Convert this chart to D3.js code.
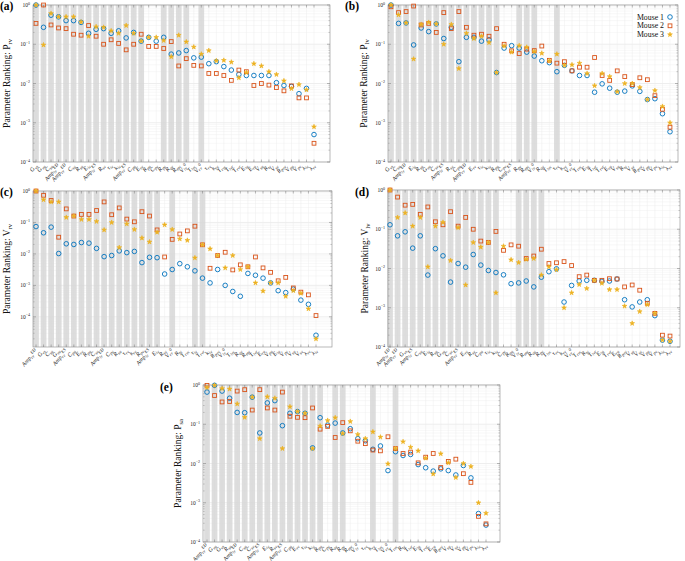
<!DOCTYPE html>
<html><head><meta charset="utf-8">
<script src="https://cdn.jsdelivr.net/npm/d3@7"></script>
<style>body{margin:0;background:#fff}svg{display:block}</style>
</head><body>
<svg id="chart" width="685" height="561"></svg>
<script>
// ---------- DATA ----------
const seriesNames = ["Mouse 1", "Mouse 2", "Mouse 3"];
const yLabelSubs = ["rv", "lv", "rv", "lv", "sa"];
const yLabelBases = ["P", "P", "V", "V", "P"];
const panelTags = ["(a)", "(b)", "(c)", "(d)", "(e)"];

const labelsA = ["G_vs","G_va","C_sa","Amp_lv^ED","Amp_rv^ED","C_sv","R_sa","E_lv","Amp_lv^ES","R_sv","τ_lv","k_lv","Amp_rv^ES","C_pa","E_rv","R_pa","C_pv","R_pv","R_av","R_mv","V_lv^0","T_lvc","V_rv^0","τ_rv","k_rv","T_rvc","T_lvr","T_rvr","E_la","E_ra","V_sa","R_tv","V_sv","R_pvv","V_pa","V_pv","λ_lv","λ_rv"];
const labelsB = ["G_vs","C_sa","Amp_lv^ED","E_lv","R_sa","G_va","C_sv","Amp_lv^ES","R_sv","C_pa","Amp_rv^ED","E_rv","τ_lv","k_lv","R_pa","C_pv","Amp_rv^ES","R_pv","R_mv","V_lv^0","R_av","T_lvc","τ_rv","k_rv","V_rv^0","T_rvc","E_la","T_lvr","T_rvr","E_ra","V_sa","R_tv","V_sv","R_pvv","V_pa","V_pv","λ_lv","λ_rv"];
const labelsC = ["Amp_rv^ED","G_vs","C_sa","G_va","Amp_rv^ES","C_pa","E_rv","R_pa","C_sv","Amp_lv^ED","C_pv","R_sa","τ_rv","k_rv","R_pv","Amp_lv^ES","E_lv","R_sv","V_rv^0","R_tv","T_rvc","τ_lv","T_rvr","k_lv","R_pvv","V_lv^0","T_lvc","R_av","R_mv","T_lvr","E_ra","V_pa","E_la","V_pv","V_sa","V_sv","λ_rv","λ_lv"];
const labelsD = ["Amp_lv^ED","Amp_rv^ED","G_vs","Amp_lv^ES","C_sa","E_lv","R_sa","G_va","C_sv","Amp_rv^ES","E_rv","R_sv","C_pa","τ_lv","k_lv","C_pv","R_pa","V_lv^0","R_mv","R_av","R_pv","T_lvc","τ_rv","k_rv","V_rv^0","T_rvc","R_tv","T_lvr","E_la","T_rvr","E_ra","R_pvv","V_sa","V_sv","V_pa","V_pv","λ_lv","λ_rv"];
const labelsE = ["Amp_rv^ED","G_va","G_vs","R_sa","Amp_lv^ED","C_sa","C_sv","Amp_lv^ES","E_lv","R_sv","Amp_rv^ES","C_pa","E_rv","τ_lv","k_lv","R_pa","C_pv","R_av","R_pv","R_mv","V_lv^0","τ_rv","k_rv","T_lvc","V_rv^0","T_rvc","R_tv","T_lvr","E_la","T_rvr","E_ra","R_pvv","V_sa","V_sv","V_pa","V_pv","λ_lv","λ_rv"];

const aM1 = [1.0,0.27,0.55,0.50,0.40,0.40,0.36,0.19,0.24,0.25,0.19,0.22,0.145,0.20,0.12,0.15,0.12,0.15,0.056,0.06,0.069,0.045,0.047,0.032,0.036,0.027,0.022,0.017,0.016,0.016,0.016,0.016,0.0105,0.0089,0.0084,0.0055,0.0075,0.0005];
const aM2 = [0.34,1.0,0.31,0.26,0.25,0.18,0.17,0.30,0.16,0.10,0.13,0.105,0.072,0.10,0.18,0.088,0.088,0.078,0.117,0.028,0.043,0.029,0.028,0.018,0.018,0.016,0.012,0.022,0.020,0.0089,0.010,0.0091,0.0079,0.0065,0.0087,0.0043,0.0043,0.0003];
const aM3 = [1.0,0.096,0.61,0.50,0.50,0.50,0.37,0.16,0.28,0.27,0.22,0.19,0.30,0.19,0.12,0.15,0.15,0.125,0.048,0.17,0.115,0.085,0.056,0.069,0.038,0.039,0.035,0.014,0.019,0.032,0.028,0.020,0.017,0.0117,0.0074,0.0094,0.0069,0.00079];

const bM1 = [1.0,0.34,0.35,0.096,0.26,0.21,0.33,0.14,0.27,0.036,0.15,0.15,0.12,0.13,0.019,0.08,0.092,0.08,0.063,0.05,0.038,0.034,0.02,0.029,0.021,0.016,0.016,0.006,0.0098,0.0076,0.006,0.0064,0.0087,0.0063,0.0039,0.0041,0.0017,0.00059];
const bM2 = [0.9,0.64,0.68,0.94,0.31,0.34,0.2,0.64,0.25,0.68,0.27,0.17,0.18,0.16,0.25,0.1,0.068,0.058,0.075,0.069,0.09,0.039,0.033,0.036,0.021,0.026,0.026,0.046,0.016,0.012,0.021,0.015,0.0094,0.014,0.0125,0.0049,0.0022,0.00077];
const bM3 = [1.0,0.56,0.35,0.042,0.32,0.36,0.33,0.1,0.32,0.024,0.19,0.14,0.16,0.11,0.019,0.09,0.063,0.092,0.084,0.065,0.059,0.038,0.056,0.029,0.030,0.033,0.018,0.0088,0.018,0.015,0.0062,0.010,0.010,0.0079,0.0039,0.0066,0.0026,0.001];

const cM1 = [0.074,0.047,0.071,0.0103,0.021,0.020,0.023,0.022,0.015,0.0082,0.0089,0.0125,0.011,0.012,0.0053,0.0078,0.0076,0.0023,0.0032,0.0049,0.0039,0.0029,0.0017,0.0012,0.0032,0.001,0.00064,0.00045,0.0024,0.0021,0.0017,0.0012,0.00068,0.00059,0.00076,0.00034,0.00025,0.000026];
const cM2 = [1.0,0.73,0.50,0.034,0.27,0.16,0.18,0.18,0.24,0.45,0.176,0.29,0.128,0.105,0.22,0.16,0.058,0.008,0.029,0.043,0.054,0.076,0.0195,0.0035,0.0089,0.0113,0.0031,0.0045,0.0039,0.008,0.0036,0.0026,0.0014,0.0018,0.00083,0.00061,0.0005,0.00011];
const cM3 = [1.0,0.53,0.45,0.45,0.145,0.16,0.125,0.125,0.108,0.058,0.10,0.016,0.09,0.06,0.032,0.024,0.049,0.084,0.06,0.03,0.027,0.0075,0.0195,0.0145,0.0089,0.0036,0.0089,0.0032,0.0039,0.0012,0.00066,0.0012,0.0012,0.00045,0.00068,0.00056,0.00018,0.00002];

const dM1 = [0.13,0.068,0.086,0.033,0.068,0.0068,0.032,0.021,0.0045,0.0134,0.0108,0.0227,0.0122,0.0089,0.0079,0.0069,0.0041,0.0043,0.0048,0.0034,0.006,0.0083,0.0098,0.0014,0.0037,0.0048,0.005,0.005,0.0047,0.0048,0.0054,0.0016,0.00105,0.0014,0.0016,0.00063,0.00015,0.00014];
const dM2 = [1.0,0.66,0.41,0.43,0.24,0.37,0.155,0.13,0.28,0.12,0.2,0.1,0.05,0.046,0.088,0.029,0.04,0.037,0.018,0.0208,0.031,0.0134,0.014,0.015,0.0119,0.0062,0.0068,0.005,0.005,0.0055,0.0054,0.0034,0.0038,0.0028,0.0013,0.00072,0.0002,0.00019];
const dM3 = [1.0,0.2,0.26,0.12,0.2,0.011,0.12,0.15,0.016,0.11,0.0038,0.046,0.035,0.046,0.0024,0.037,0.0167,0.0142,0.0171,0.018,0.0068,0.011,0.0093,0.001,0.0024,0.0039,0.0031,0.005,0.0042,0.0029,0.0029,0.0011,0.0004,0.0008,0.0012,0.00072,0.00015,0.00014];

const eM1 = [0.66,0.98,0.70,0.46,0.2,0.197,0.49,0.06,0.35,0.40,0.092,0.19,0.21,0.19,0.025,0.147,0.095,0.107,0.06,0.077,0.043,0.038,0.023,0.028,0.0066,0.020,0.016,0.017,0.0094,0.0078,0.0064,0.0073,0.0066,0.0051,0.0089,0.0043,0.00053,0.00027];
const eM2 = [0.98,0.54,0.37,0.38,0.70,0.76,0.23,0.76,0.26,0.23,0.66,0.16,0.15,0.147,0.26,0.075,0.088,0.046,0.11,0.068,0.037,0.032,0.022,0.021,0.048,0.024,0.018,0.0195,0.0104,0.0145,0.018,0.0079,0.0113,0.0129,0.0055,0.0033,0.00045,0.00029];
const eM3 = [0.86,0.98,0.81,0.79,0.33,0.15,0.49,0.043,0.5,0.46,0.024,0.28,0.21,0.19,0.024,0.09,0.125,0.147,0.058,0.118,0.055,0.043,0.064,0.047,0.0098,0.024,0.036,0.026,0.021,0.0137,0.0054,0.0177,0.0104,0.0044,0.01,0.0084,0.001,0.00054];

// categories (1-based) with grey shading
const shadeA = [1,2,3,4,5,6,7,8,9,10,11,12,13,14,15,18,19,20,21,23];
const shadeB = [1,2,3,4,5,6,7,8,9,10,11,12,13,14,15,18,19,20,23];
const shadeC = [1,2,3,4,5,6,7,8,9,10,11,12,13,14,15,16,17,19,22,23];
const shadeD = [1,2,3,4,5,6,7,8,9,10,11,12,13,14,15,18,19,20,21];
const shadeE = [1,2,3,4,5,6,7,8,9,10,11,12,13,14,15,16,18,19,23,26];

const yTickExps = [0, -1, -2, -3, -4];

// ---------- LAYOUT ----------
const layout = [
  {left:33, right:330, top:5, bottom:162, first:36, last:314, ymin:1e-4, ylabX:10, tagX:0, tagY:10},
  {left:388, right:678, top:5, bottom:162, first:391, last:670, ymin:1e-4, ylabX:367, tagX:345, tagY:10, legend:true},
  {left:33, right:332, top:191, bottom:347, first:36, last:316, ymin:1.1e-5, ylabX:10, tagX:0, tagY:196},
  {left:388, right:680, top:190, bottom:347, first:390, last:670, ymin:1e-4, ylabX:368, tagX:355, tagY:196},
  {left:203, right:500, top:385, bottom:542, first:207, last:486, ymin:1e-4, ylabX:181, tagX:160, tagY:391}
];
const panels = [
  {labels:labelsA, s:[aM1,aM2,aM3], shade:shadeA},
  {labels:labelsB, s:[bM1,bM2,bM3], shade:shadeB},
  {labels:labelsC, s:[cM1,cM2,cM3], shade:shadeC},
  {labels:labelsD, s:[dM1,dM2,dM3], shade:shadeD},
  {labels:labelsE, s:[eM1,eM2,eM3], shade:shadeE}
];
const colors = ["#0072BD", "#D95319", "#EDB120"];
const FONT = "'Liberation Serif','Times New Roman',serif";

const svg = d3.select("#chart");
svg.append("rect").attr("width",685).attr("height",561).attr("fill","#fff");

function addMarker(sel, k, cx, cy) {
  if (k === 0) {
    sel.append("circle").attr("cx",cx).attr("cy",cy).attr("r",2.3)
      .attr("fill","none").attr("stroke",colors[0]).attr("stroke-width",0.9);
  } else if (k === 1) {
    sel.append("rect").attr("x",cx-1.9).attr("y",cy-1.9).attr("width",3.8).attr("height",3.8)
      .attr("fill","none").attr("stroke",colors[1]).attr("stroke-width",0.9);
  } else {
    sel.append("path").attr("d", d3.symbol().type(d3.symbolStar).size(7)())
      .attr("transform",`translate(${cx},${cy})`)
      .attr("fill",colors[2]).attr("stroke",colors[2]).attr("stroke-width",0.6)
      .attr("stroke-linejoin","round");
  }
}

function drawLabel(sel, str, x, y) {
  const m = str.match(/^([^_^]+)(?:_([^^]+))?(?:\^(.+))?$/);
  const t = sel.append("text").attr("transform",`translate(${x},${y}) rotate(-50)`)
    .attr("text-anchor","end").attr("font-family",FONT).attr("font-style","italic")
    .attr("font-size",6).attr("fill","#222");
  t.append("tspan").text(m[1]);
  if (m[2]) t.append("tspan").attr("font-size",4.4).attr("dy",1.4).text(m[2]);
  if (m[3]) t.append("tspan").attr("font-size",4.4).attr("dy",-3.4).text(m[3]);
}

layout.forEach((L, pi) => {
  const P = panels[pi];
  const n = P.labels.length;
  const g = svg.append("g");
  const x = d3.scaleLinear().domain([1, n]).range([L.first, L.last]);
  const y = d3.scaleLog().domain([L.ymin, 1]).range([L.bottom, L.top]);
  const step = x(2) - x(1);

  const minor = [];
  for (let e = -5; e < 0; e++) for (let k = 2; k <= 9; k++) {
    const v = k * Math.pow(10, e);
    if (v > L.ymin && v < 1) minor.push(v);
  }
  const major = yTickExps.map(e => Math.pow(10, e)).filter(v => v >= L.ymin);
  g.selectAll(null).data(minor).enter().append("line")
    .attr("x1",L.left).attr("x2",L.right).attr("y1",d=>y(d)).attr("y2",d=>y(d))
    .attr("stroke","#f0f0f0").attr("stroke-width",0.5);
  g.selectAll(null).data(major).enter().append("line")
    .attr("x1",L.left).attr("x2",L.right).attr("y1",d=>y(d)).attr("y2",d=>y(d))
    .attr("stroke","#e2e2e2").attr("stroke-width",0.6);
  g.selectAll(null).data(d3.range(1, n+1)).enter().append("line")
    .attr("x1",d=>x(d)).attr("x2",d=>x(d)).attr("y1",L.top).attr("y2",L.bottom)
    .attr("stroke","#ececec").attr("stroke-width",0.5);

  g.selectAll(null).data(P.shade).enter().append("rect")
    .attr("x",d=>x(d)-step*0.38).attr("width",step*0.76)
    .attr("y",L.top).attr("height",L.bottom-L.top)
    .attr("fill","#d4d4d4").attr("opacity",0.8);

  g.append("rect").attr("x",L.left).attr("y",L.top).attr("width",L.right-L.left)
    .attr("height",L.bottom-L.top).attr("fill","none").attr("stroke","#9a9a9a").attr("stroke-width",0.7);

  [[L.left,1],[L.right,-1]].forEach(([xx,dir]) => {
    g.selectAll(null).data(major).enter().append("line")
      .attr("x1",xx).attr("x2",xx+dir*3).attr("y1",d=>y(d)).attr("y2",d=>y(d))
      .attr("stroke","#777").attr("stroke-width",0.5);
    g.selectAll(null).data(minor).enter().append("line")
      .attr("x1",xx).attr("x2",xx+dir*1.6).attr("y1",d=>y(d)).attr("y2",d=>y(d))
      .attr("stroke","#888").attr("stroke-width",0.4);
  });
  [[L.bottom,-1],[L.top,1]].forEach(([yy,dir]) => {
    g.selectAll(null).data(d3.range(1, n+1)).enter().append("line")
      .attr("x1",d=>x(d)).attr("x2",d=>x(d)).attr("y1",yy).attr("y2",yy+dir*2.5)
      .attr("stroke","#777").attr("stroke-width",0.5);
  });

  yTickExps.forEach(e => {
    const v = Math.pow(10, e);
    if (v < L.ymin) return;
    const t = g.append("text").attr("x",L.left-3).attr("y",y(v)+2)
      .attr("text-anchor","end").attr("font-family",FONT).attr("font-size",5.5).attr("fill","#222");
    t.append("tspan").text("10");
    t.append("tspan").attr("font-size",4).attr("dy",-2.5).text(String(e).replace("-","\u2212"));
  });

  P.labels.forEach((lab, i) => drawLabel(g, lab, x(i+1)+1.5, L.bottom+4));

  const yl = g.append("text").attr("transform",`translate(${L.ylabX},${(L.top+L.bottom)/2}) rotate(-90)`)
    .attr("text-anchor","middle").attr("font-family",FONT).attr("font-size",9.5).attr("fill","#111");
  yl.append("tspan").text("Parameter Ranking: " + yLabelBases[pi]);
  yl.append("tspan").attr("font-size",6.5).attr("dy",2).text(yLabelSubs[pi]);

  g.append("text").attr("x",L.tagX).attr("y",L.tagY).attr("font-family",FONT)
    .attr("font-weight","bold").attr("font-size",11.5).attr("fill","#000").text(panelTags[pi]);

  const pg = g.append("g");
  P.s.forEach((vals, k) => {
    vals.forEach((v, i) => addMarker(pg, k, x(i+1), y(v)));
  });

  if (L.legend) {
    const lg = g.append("g");
    lg.append("rect").attr("x",633).attr("y",10).attr("width",43).attr("height",29).attr("fill","#fff");
    seriesNames.forEach((nm, k) => {
      const cy = 17 + k*8.8;
      lg.append("text").attr("x",664).attr("y",cy+2.6).attr("text-anchor","end")
        .attr("font-family",FONT).attr("font-size",7.8).attr("fill","#111").text(nm);
      addMarker(lg, k, 670, cy);
    });
  }
});
</script>
</body></html>
